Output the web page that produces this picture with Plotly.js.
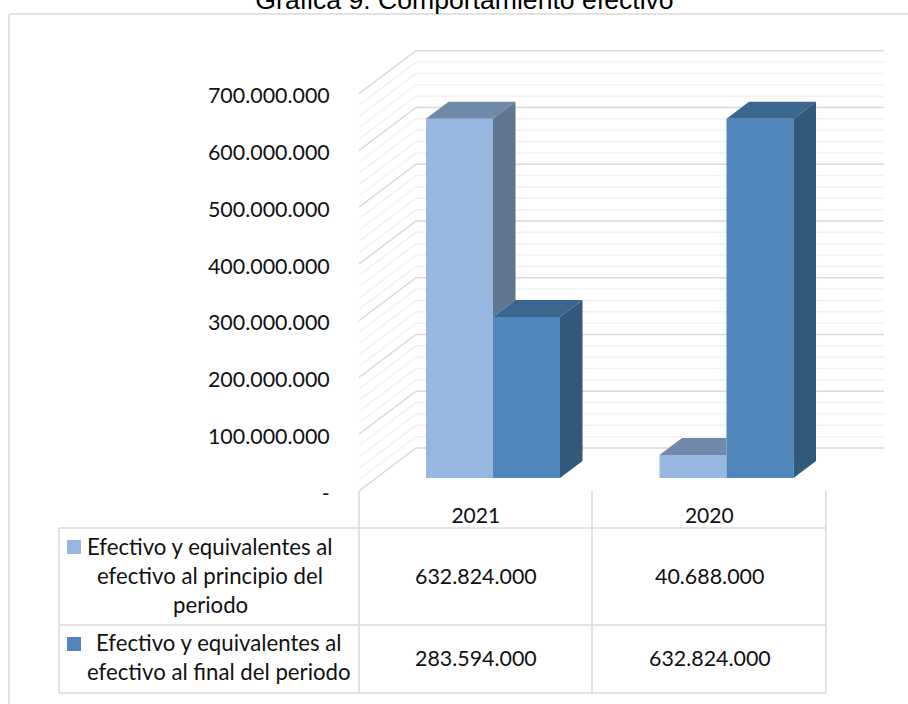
<!DOCTYPE html>
<html><head><meta charset="utf-8"><script src="https://cdn.plot.ly/plotly-3.0.1.min.js"></script>
<style>html,body{margin:0;padding:0;background:#fff}</style></head><body><div id="c" style="width:908px;height:704px"></div>
<script>
const categories = ["2021","2020"];
const seriesStart = [632824000, 40688000];
const seriesEnd = [283594000, 632824000];
const startLabels = ["632.824.000","40.688.000"];
const endLabels = ["283.594.000","632.824.000"];
const startName = ["Efectivo y equivalentes al","efectivo al principio del","periodo"];
const endName = ["Efectivo y equivalentes al","efectivo al final del periodo"];
const yTicks = [0,100000000,200000000,300000000,400000000,500000000,600000000,700000000];
const yTickText = ["-","100.000.000","200.000.000","300.000.000","400.000.000","500.000.000","600.000.000","700.000.000"];
const colors = {light:"#97b7e0",lightTop:"#7089ab",lightSide:"#60758f",dark:"#4f86bc",darkTop:"#3b668e",darkSide:"#30597b"};

const W=908,H=704,L=359,R=884,T=40,B=491;
const pxPerCat=233.5, pxPerVal=56.75/1e8;
const xMin=-0.5, xMax=xMin+(R-L)/pxPerCat, yMax=(B-T)/pxPerVal;
const depthX=57/pxPerCat, depthV=43/pxPerVal;
const d0=13/43, d1=17/43;
const barW=67/pxPerCat;
const font="Lato, Carlito, sans-serif", fs=21.4, fsRow=22.2, ink="#111";
const px=v=>(v-L)/(R-L), py=v=>(B-v)/(B-T);
const P=(x,v,d)=>[x+d*depthX, v+d*depthV];

const shapes=[];
for(let v=0;v<=700000000;v+=20000000){
  const major=v%100000000===0, col=major?"#d9d9d9":"#f2f2f2";
  const a=P(xMin,v,0), b=P(xMin,v,1);
  shapes.push({type:"path",layer:"below",xref:"x",yref:"y",path:`M${a[0]},${a[1]}L${b[0]},${b[1]}L${xMax},${b[1]}`,line:{color:col,width:1.5}});
}
const gline=(x0,y0,x1,y1)=>shapes.push({type:"line",xref:"paper",yref:"paper",x0:px(x0),y0:py(y0),x1:px(x1),y1:py(y1),line:{color:"#d9d9d9",width:1.5}});
gline(9,14,9,704); gline(9,14,908,14);
gline(359,491,359,693); gline(592,491,592,693); gline(826,491,826,693);
gline(59,528,826,528); gline(59,625,826,625); gline(59,693,826,693); gline(59,528,59,693);
const swatch=(y,c)=>shapes.push({type:"rect",xref:"paper",yref:"paper",x0:px(67),x1:px(81),y0:py(y),y1:py(y+14),fillcolor:c,line:{width:0}});
swatch(540,colors.light); swatch(637,colors.dark);

const anns=[];
const txt=(s,x,y,size)=>anns.push({text:s,xref:"paper",yref:"paper",x:px(x),y:py(y),xanchor:"center",yanchor:"middle",showarrow:false,font:{family:font,size:size,color:ink}});
startName.forEach((s,i)=>txt(s,210,546+i*29,fsRow));
endName.forEach((s,i)=>txt(s,219,642+i*29,fsRow));
categories.forEach((c,i)=>{const cx=476+i*pxPerCat; txt(startLabels[i],cx,576,fs); txt(endLabels[i],cx,658,fs);});

const poly=(pts,c)=>({type:"scatter",mode:"lines",x:[...pts.map(p=>p[0]),pts[0][0]],y:[...pts.map(p=>p[1]),pts[0][1]],fill:"toself",fillcolor:c,line:{width:0,color:c},hoverinfo:"skip",showlegend:false});
const faces=[];
categories.forEach((c,i)=>{
  const vs=seriesStart[i], ve=seriesEnd[i];
  const m=i+d0*depthX, a=m-barW, b=m+barW, dX=d1*depthX, f=d0*depthV, g=(d0+d1)*depthV;
  const top=[[a,vs+f],[a+dX,vs+g]];
  if(ve>vs){top.push([m,vs+g],[m,vs+f]);} else {top.push([m+dX,vs+g],[m,vs+f]);}
  faces.push(poly(top,colors.lightTop));
  if(vs>ve) faces.push(poly([[m,vs+f],[m+dX,vs+g],[m+dX,ve+g],[m,ve+f]],colors.lightSide));
  faces.push(poly([[m,ve+f],[m+dX,ve+g],[b+dX,ve+g],[b,ve+f]],colors.darkTop));
  faces.push(poly([[b,f],[b+dX,g],[b+dX,ve+g],[b,ve+f]],colors.darkSide));
});
const idx=categories.map((c,i)=>i), shift=d0*depthX;
const data=[
 {type:"bar",name:startName.join(" "),x:idx.map(i=>i+shift-barW/2),y:seriesStart,base:idx.map(()=>d0*depthV),width:barW,marker:{color:colors.light,line:{width:0}},showlegend:false},
 {type:"bar",name:endName.join(" "),x:idx.map(i=>i+shift+barW/2),y:seriesEnd,base:idx.map(()=>d0*depthV),width:barW,marker:{color:colors.dark,line:{width:0}},showlegend:false},
 ...faces
];
const layout={
 width:W,height:H,margin:{l:L,r:W-R,t:T,b:H-B},paper_bgcolor:"#fff",plot_bgcolor:"rgba(0,0,0,0)",barmode:"overlay",showlegend:false,
 title:{text:"Gráfica 9. Comportamiento efectivo",x:464.5/W,xanchor:"center",y:1,yref:"container",yanchor:"middle",font:{family:"Liberation Sans, Arial, sans-serif",size:26.6,color:"#000"}},
 xaxis:{range:[xMin,xMax],tickmode:"array",tickvals:idx,ticktext:categories,showgrid:false,zeroline:false,showline:false,ticks:"outside",ticklen:6,tickcolor:"rgba(0,0,0,0)",tickfont:{family:font,size:21,color:ink}},
 yaxis:{range:[0,yMax],tickmode:"array",tickvals:yTicks,ticktext:yTickText,showgrid:false,zeroline:false,showline:false,ticks:"outside",ticklen:24,ticklabelshift:2,tickcolor:"rgba(0,0,0,0)",tickfont:{family:font,size:fs,color:ink}},
 shapes,annotations:anns
};
Plotly.newPlot("c",data,layout,{displayModeBar:false,staticPlot:true});
</script></body></html>
